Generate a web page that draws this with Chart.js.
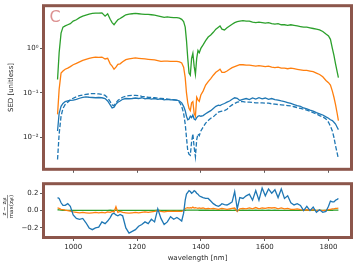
<!DOCTYPE html>
<html>
<head>
<meta charset="utf-8">
<script src="https://cdn.jsdelivr.net/npm/chart.js@4.4.1/dist/chart.umd.min.js"></script>
<style>
  html, body { margin: 0; padding: 0; background: #fff; }
  #wrap { position: relative; width: 353px; height: 262px; overflow: hidden; }
  #top { position: absolute; left: 0; top: 0; }
  #bot { position: absolute; left: 0; top: 178px; }
</style>
</head>
<body>
<div id="wrap">
  <canvas id="top" width="353" height="175"></canvas>
  <canvas id="bot" width="353" height="84"></canvas>
</div>
<script>
// SED 예측 vs 정답 (위) + 정규화 잔차 (아래)
const BLUE = "#1f77b4"
const ORANGE = "#ff7f0e"
const GREEN = "#2ca02c"
const BROWN = "#8c564b"
const TEXT = "#262626"
const FONT = "'DejaVu Sans', sans-serif"

const wavelengths = [951, 956, 962, 968, 975, 983, 991, 1000, 1010, 1020,
  1030, 1040, 1050, 1060, 1070, 1080, 1090, 1100, 1108, 1116,
  1122, 1128, 1134, 1140, 1147, 1155, 1165, 1175, 1185, 1195,
  1205, 1215, 1225, 1235, 1245, 1255, 1265, 1275, 1285, 1295,
  1305, 1315, 1325, 1333, 1340, 1346, 1351, 1355, 1359, 1363,
  1367, 1371, 1375, 1379, 1383, 1387, 1391, 1395, 1400, 1407,
  1415, 1423, 1431, 1439, 1447, 1455, 1460, 1466, 1474, 1482,
  1490, 1498, 1506, 1514, 1522, 1532, 1542, 1552, 1562, 1572,
  1582, 1592, 1602, 1612, 1622, 1632, 1642, 1652, 1662, 1672,
  1682, 1692, 1702, 1712, 1722, 1732, 1742, 1752, 1762, 1772,
  1782, 1792, 1800, 1806, 1812, 1817, 1822, 1827, 1831]

const sedGreen = [0.2, 0.8, 2.2, 3.0, 3.2, 3.4, 3.6, 4.1, 4.4, 4.9,
  5.3, 5.6, 5.9, 6.1, 6.2, 6.2, 6.3, 5.3, 6.0, 4.5,
  3.8, 3.4, 3.9, 4.4, 4.7, 5.1, 5.7, 5.9, 6.0, 6.1,
  6.0, 5.9, 5.8, 5.8, 5.7, 5.6, 5.4, 5.2, 5.0, 5.1,
  5.0, 4.9, 4.9, 4.8, 4.5, 4.0, 3.0, 1.5, 0.6, 0.28,
  0.25, 0.6, 0.78, 0.4, 0.26, 0.6, 0.9, 0.8, 1.0, 1.2,
  1.5, 1.8, 2.0, 2.3, 2.7, 3.0, 3.2, 2.7, 2.6, 2.9,
  3.2, 3.5, 3.8, 4.0, 4.1, 4.2, 4.1, 4.1, 3.9, 3.8,
  3.9, 3.8, 3.7, 3.8, 3.6, 3.5, 3.6, 3.4, 3.4, 3.3,
  3.4, 3.3, 3.2, 3.1, 3.0, 3.0, 2.9, 2.8, 2.7, 2.6,
  2.4, 2.1, 1.9, 1.6, 1.0, 0.7, 0.45, 0.3, 0.22]

const sedOrange = [0.033, 0.12, 0.28, 0.31, 0.34, 0.36, 0.39, 0.43, 0.46, 0.5,
  0.54, 0.57, 0.6, 0.62, 0.64, 0.63, 0.64, 0.58, 0.6, 0.45,
  0.4, 0.34, 0.38, 0.44, 0.45, 0.5, 0.56, 0.58, 0.6, 0.61,
  0.6, 0.59, 0.58, 0.57, 0.56, 0.55, 0.53, 0.51, 0.52, 0.52,
  0.51, 0.51, 0.51, 0.5, 0.47, 0.38, 0.22, 0.1, 0.06, 0.045,
  0.04, 0.06, 0.064, 0.035, 0.03, 0.08, 0.07, 0.065, 0.09, 0.11,
  0.15, 0.18, 0.21, 0.25, 0.29, 0.32, 0.34, 0.29, 0.29, 0.31,
  0.34, 0.37, 0.39, 0.41, 0.43, 0.43, 0.42, 0.42, 0.41, 0.4,
  0.41, 0.4, 0.39, 0.4, 0.38, 0.37, 0.38, 0.36, 0.36, 0.35,
  0.36, 0.35, 0.34, 0.33, 0.32, 0.32, 0.31, 0.3, 0.28, 0.26,
  0.23, 0.19, 0.17, 0.15, 0.11, 0.08, 0.055, 0.035, 0.024]

const sedBlue = [0.014, 0.035, 0.05, 0.058, 0.064, 0.066, 0.068, 0.069, 0.072, 0.076,
  0.08, 0.082, 0.08, 0.079, 0.078, 0.079, 0.078, 0.075, 0.066, 0.054,
  0.046, 0.048, 0.056, 0.062, 0.066, 0.072, 0.075, 0.074, 0.075, 0.077,
  0.075, 0.078, 0.074, 0.076, 0.073, 0.075, 0.072, 0.074, 0.07, 0.072,
  0.07, 0.071, 0.069, 0.066, 0.06, 0.05, 0.04, 0.03, 0.025, 0.026,
  0.03, 0.028, 0.032, 0.026, 0.025, 0.028, 0.03, 0.031, 0.03, 0.031,
  0.034, 0.037, 0.04, 0.045, 0.05, 0.053, 0.052, 0.055, 0.058, 0.062,
  0.066, 0.072, 0.078, 0.076, 0.068, 0.072, 0.075, 0.071, 0.077, 0.073,
  0.078, 0.074, 0.077, 0.072, 0.075, 0.071, 0.069, 0.066, 0.064, 0.061,
  0.058, 0.055, 0.052, 0.05, 0.046, 0.044, 0.041, 0.039, 0.036, 0.034,
  0.032, 0.029, 0.027, 0.025, 0.024, 0.022, 0.02, 0.017, 0.015]

// 정답 SED (파란 점선)
const sedBlueTrue = [0.0032, 0.012, 0.03, 0.045, 0.055, 0.062, 0.07, 0.076, 0.082, 0.087,
  0.09, 0.093, 0.095, 0.097, 0.096, 0.095, 0.093, 0.088, 0.078, 0.064,
  0.054, 0.052, 0.06, 0.068, 0.074, 0.08, 0.085, 0.087, 0.088, 0.088,
  0.087, 0.084, 0.082, 0.08, 0.079, 0.078, 0.076, 0.075, 0.074, 0.073,
  0.072, 0.07, 0.068, 0.062, 0.05, 0.035, 0.02, 0.01, 0.005, 0.0042,
  0.004, 0.008, 0.012, 0.006, 0.0037, 0.009, 0.012, 0.011, 0.014, 0.017,
  0.021, 0.024, 0.027, 0.029, 0.033, 0.037, 0.038, 0.039, 0.04, 0.043,
  0.049, 0.054, 0.058, 0.062, 0.064, 0.064, 0.062, 0.062, 0.061, 0.06,
  0.06, 0.06, 0.059, 0.059, 0.057, 0.056, 0.055, 0.054, 0.053, 0.052,
  0.051, 0.049, 0.047, 0.045, 0.043, 0.041, 0.039, 0.036, 0.034, 0.031,
  0.029, 0.026, 0.022, 0.018, 0.014, 0.01, 0.0065, 0.0045, 0.0033]

const resBlue = [0.15, 0.14, 0.09, 0.06, 0.06, 0.08, 0.05, -0.05, -0.09, -0.1,
  -0.09, -0.14, -0.2, -0.22, -0.2, -0.19, -0.13, -0.15, -0.12, -0.08,
  -0.04, -0.03, -0.05, -0.06, -0.045, -0.06, -0.2, -0.26, -0.24, -0.22,
  -0.18, -0.16, -0.13, -0.15, -0.1, -0.13, 0.02, -0.09, -0.16, -0.13,
  -0.07, -0.1, -0.08, -0.1, -0.12, -0.03, 0.12, 0.19, 0.21, 0.23,
  0.22, 0.2, 0.21, 0.23, 0.22, 0.2, 0.19, 0.17, 0.16, 0.15,
  0.14, 0.14, 0.11, 0.08, 0.06, 0.05, 0.06, 0.08, 0.07, 0.065,
  0.08, 0.1, 0.22, 0.02, 0.15, 0.14, 0.17, 0.19, 0.12, 0.23,
  0.12, 0.26, 0.17, 0.25, 0.2, 0.24, 0.15, 0.25, 0.14, 0.17,
  0.09, 0.065, 0.08, 0.06, 0.0, 0.05, 0.0, 0.04, -0.02, 0.01,
  -0.02, -0.01, 0.05, 0.11, 0.1, 0.1, 0.12, 0.13, 0.14]

const resOrange = [0.03, 0.025, 0.015, 0.01, 0.005, 0.0, -0.005, -0.015, -0.02, -0.025,
  -0.02, -0.025, -0.03, -0.025, -0.02, -0.025, -0.02, -0.025, -0.015, -0.02,
  -0.01, -0.015, 0.045, -0.02, -0.01, -0.02, -0.025, -0.03, -0.025, -0.02,
  -0.025, -0.02, -0.015, -0.02, -0.015, -0.01, 0.0, -0.01, -0.015, -0.01,
  -0.005, -0.01, -0.005, -0.01, -0.01, 0.0, 0.025, 0.03, 0.035, 0.03,
  0.035, 0.03, 0.04, 0.03, 0.035, 0.03, 0.025, 0.03, 0.025, 0.03,
  0.02, 0.025, 0.02, 0.025, 0.02, 0.015, 0.02, 0.025, 0.02, 0.015,
  0.02, 0.025, 0.03, -0.01, 0.02, 0.025, 0.02, 0.03, 0.02, 0.035,
  0.02, 0.03, 0.025, 0.035, 0.03, 0.035, 0.02, 0.03, 0.02, 0.025,
  0.015, 0.015, 0.02, 0.01, 0.005, 0.01, 0.005, 0.01, 0.0, 0.005,
  0.0, 0.005, 0.01, 0.015, 0.02, 0.02, 0.025, 0.025, 0.03]

const resGreen = [0.01, 0.008, 0.005, 0.004, 0.003, 0.003, 0.002, 0.002, 0.003, 0.002,
  0.003, 0.002, 0.002, 0.003, 0.002, 0.003, 0.003, 0.002, 0.003, 0.004,
  0.003, 0.003, 0.006, 0.002, 0.003, 0.002, 0.002, 0.003, 0.002, 0.003,
  0.002, 0.003, 0.002, 0.002, 0.003, 0.003, 0.004, 0.003, 0.002, 0.003,
  0.003, 0.002, 0.003, 0.003, 0.002, 0.003, 0.004, 0.005, 0.006, 0.005,
  0.006, 0.005, 0.006, 0.005, 0.006, 0.005, 0.005, 0.004, 0.005, 0.004,
  0.004, 0.004, 0.003, 0.004, 0.003, 0.004, 0.003, 0.004, 0.003, 0.003,
  0.004, 0.003, 0.004, 0.002, 0.003, 0.004, 0.003, 0.004, 0.003, 0.004,
  0.003, 0.004, 0.003, 0.004, 0.003, 0.004, 0.003, 0.003, 0.003, 0.003,
  0.003, 0.002, 0.003, 0.002, 0.002, 0.003, 0.002, 0.003, 0.002, 0.002,
  0.002, 0.003, 0.003, 0.004, 0.004, 0.005, 0.005, 0.006, 0.006]

const xTicks = [1000, 1200, 1400, 1600, 1800]
const sedTicks = [0.01, 0.1, 1]
const sedTickLabels = ["10⁻²", "10⁻¹", "10⁰"]
const resTicks = [-0.2, 0, 0.2]
const resTickLabels = ["−0.2", "0.0", "0.2"]

const pts = (ys) => ys.map((y, i) => ({ x: wavelengths[i], y }))

const line = (ys, color, dash) => ({
  data: pts(ys),
  borderColor: color,
  borderWidth: 1.3,
  borderDash: dash || [],
  pointRadius: 0,
  tension: 0,
})

// 축 테두리 (갈색 굵은 프레임)
const frame = {
  id: "frame",
  afterDatasetsDraw(chart) {
    const { ctx, chartArea: a } = chart
    ctx.save()
    ctx.strokeStyle = BROWN
    ctx.lineWidth = 3
    ctx.strokeRect(a.left, a.top, a.right - a.left, a.bottom - a.top)
    ctx.restore()
  },
}

const panelLetter = {
  id: "panelLetter",
  afterDraw(chart) {
    const { ctx, chartArea: a } = chart
    ctx.save()
    ctx.fillStyle = "#dc9191"
    ctx.font = `16px ${FONT}`
    ctx.textBaseline = "alphabetic"
    ctx.fillText("C", a.left + 6, a.top + 16)
    ctx.restore()
  },
}

function drawPieces(ctx, pieces, cy) {
  let w = 0
  for (const [t, size] of pieces) {
    ctx.font = `${size}px ${FONT}`
    w += ctx.measureText(t).width
  }
  let x = -w / 2
  for (const [t, size, dy] of pieces) {
    ctx.font = `${size}px ${FONT}`
    ctx.fillText(t, x, cy + dy)
    x += ctx.measureText(t).width
  }
  return w
}

// 아래 패널 y 라벨: (z - z_gt) / max(z_gt)
const fracLabel = {
  id: "fracLabel",
  afterDraw(chart) {
    const { ctx, chartArea: a } = chart
    ctx.save()
    ctx.translate(7.5, (a.top + a.bottom) / 2 - 4)
    ctx.rotate(-Math.PI / 2)
    ctx.fillStyle = TEXT
    ctx.textBaseline = "middle"
    const w1 = drawPieces(ctx, [["z − z", 5.5, 0], ["gt", 4, 1.2]], -3.4)
    const w2 = drawPieces(ctx, [["max(z", 5.5, 0], ["gt", 4, 1.2], [")", 5.5, 0]], 3.6)
    const w = Math.max(w1, w2)
    ctx.strokeStyle = TEXT
    ctx.lineWidth = 0.5
    ctx.beginPath()
    ctx.moveTo(-w / 2, 0)
    ctx.lineTo(w / 2, 0)
    ctx.stroke()
    ctx.restore()
  },
}

const tickGrid = { drawOnChartArea: false, drawTicks: true, tickLength: 3.5, tickWidth: 0.8, tickColor: "#333" }
const tickFont = { family: FONT, size: 7 }

const xScale = (showLabels, height) => ({
  type: "linear",
  min: 907,
  max: 1872,
  grid: tickGrid,
  border: { display: false },
  afterBuildTicks: (s) => { s.ticks = xTicks.map((v) => ({ value: v })) },
  afterFit: (s) => { s.height = height },
  ticks: { display: showLabels, color: TEXT, font: tickFont, padding: 1.5, maxRotation: 0, callback: (v) => String(v) },
})

new Chart(document.getElementById("top"), {
  type: "line",
  data: {
    datasets: [
      line(sedBlue, BLUE),
      line(sedBlueTrue, BLUE, [4.5, 2]),
      line(sedOrange, ORANGE),
      line(sedGreen, GREEN),
    ],
  },
  options: {
    responsive: false,
    animation: false,
    layout: { padding: { top: 1, right: 1.5, left: 0, bottom: 0 } },
    plugins: { legend: { display: false }, tooltip: { enabled: false } },
    scales: {
      x: xScale(false, 5.5),
      y: {
        type: "logarithmic",
        min: 0.00193,
        max: 9.1,
        grid: tickGrid,
        border: { display: false },
        afterBuildTicks: (s) => { s.ticks = sedTicks.map((v) => ({ value: v })) },
        afterFit: (s) => { s.width = 43.5 },
        ticks: {
          color: TEXT,
          font: tickFont,
          padding: 1.5,
          callback: (v) => sedTickLabels[sedTicks.indexOf(v)] ?? "",
        },
        title: { display: true, text: "SED [unitless]", color: TEXT, font: tickFont, padding: { top: 6.5, bottom: 0 } },
      },
    },
  },
  plugins: [frame, panelLetter],
})

new Chart(document.getElementById("bot"), {
  type: "line",
  data: {
    datasets: [
      line(resBlue, BLUE),
      line(resOrange, ORANGE),
      line(resGreen, GREEN),
    ],
  },
  options: {
    responsive: false,
    animation: false,
    layout: { padding: { top: 2.5, right: 1.5, left: 0, bottom: 0 } },
    plugins: { legend: { display: false }, tooltip: { enabled: false } },
    scales: {
      x: {
        ...xScale(true, 24.5),
        title: { display: true, text: "wavelength [nm]", color: TEXT, font: tickFont, padding: { top: 0, bottom: 0 } },
      },
      y: {
        type: "linear",
        min: -0.31,
        max: 0.31,
        grid: tickGrid,
        border: { display: false },
        afterBuildTicks: (s) => { s.ticks = resTicks.map((v) => ({ value: v })) },
        afterFit: (s) => { s.width = 43.5 },
        ticks: {
          color: TEXT,
          font: tickFont,
          padding: 1.5,
          callback: (v) => resTickLabels[resTicks.indexOf(v)] ?? "",
        },
      },
    },
  },
  plugins: [frame, fracLabel],
})
</script>
</body>
</html>
